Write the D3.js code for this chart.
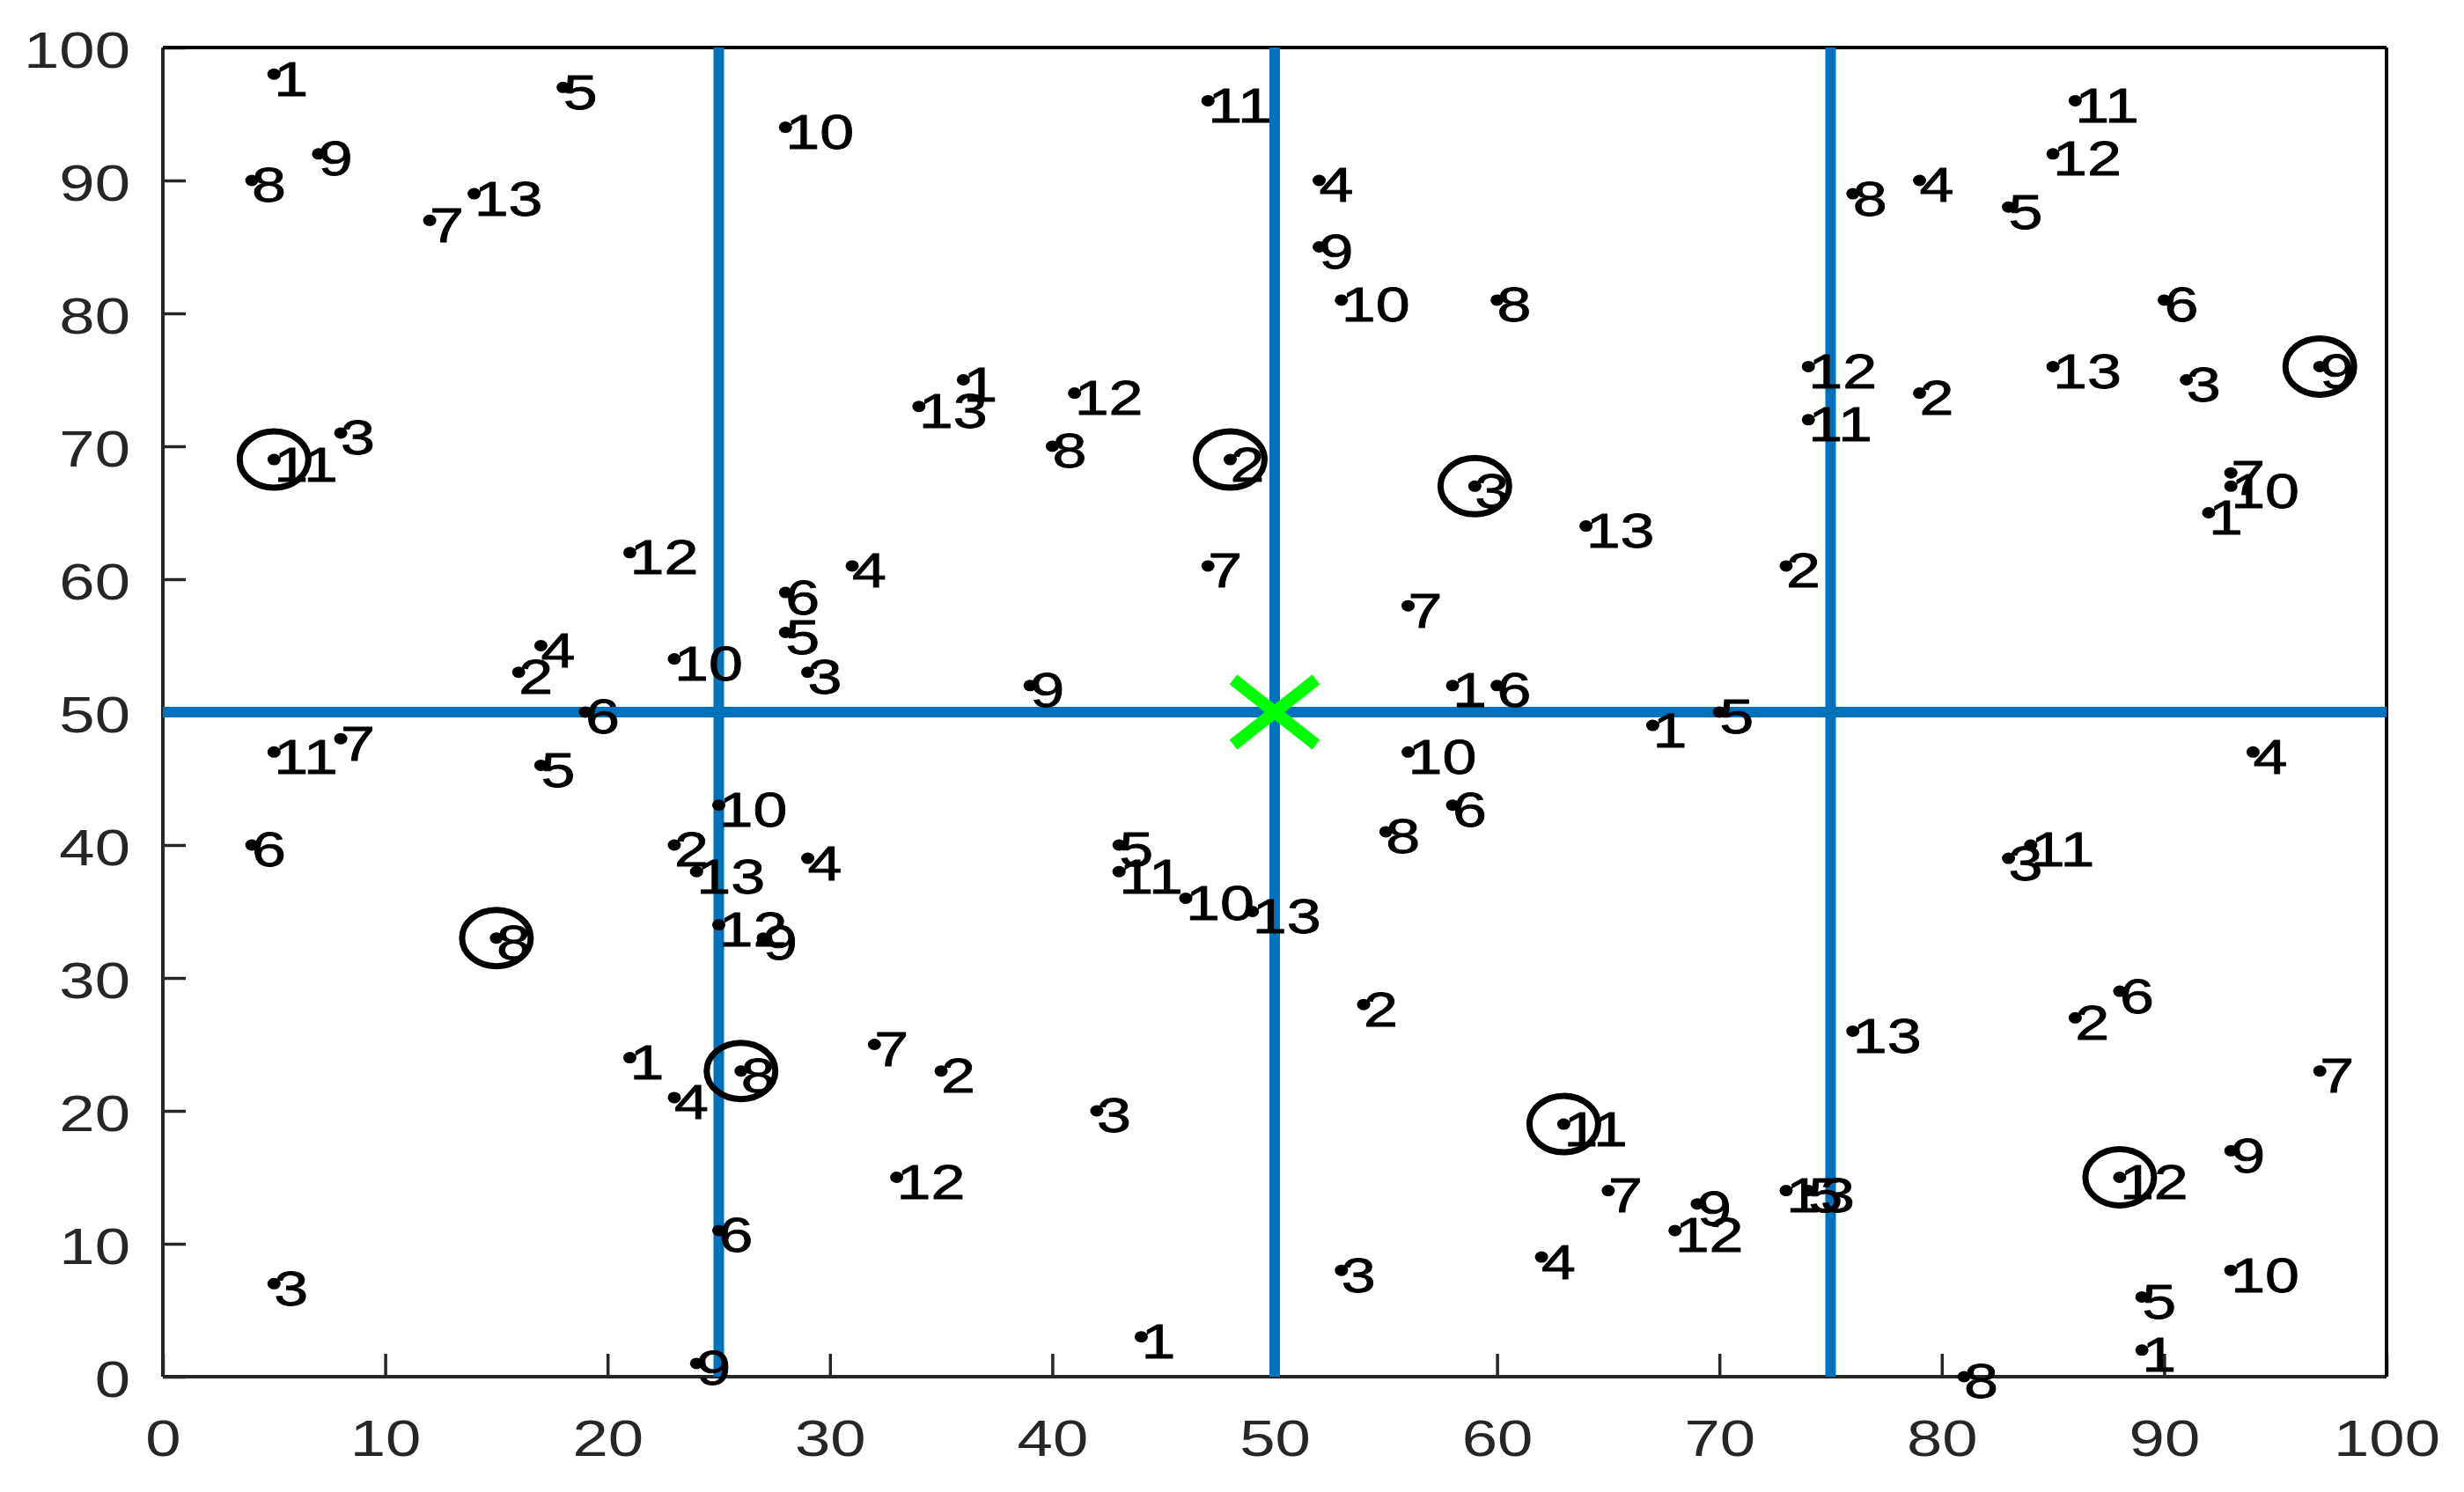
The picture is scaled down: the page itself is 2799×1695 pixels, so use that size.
<!DOCTYPE html>
<html>
<head>
<meta charset="utf-8">
<script src="https://cdn.jsdelivr.net/npm/d3@7"></script>
<style>
  body { margin: 0; background: #fff; }
</style>
</head>
<body>
<div id="wrapper"></div>
<script>
// point data, grouped by label (8 points per label)
const pointLabels = [
    1, 1, 1, 1, 1, 1, 1, 1,
    2, 2, 2, 2, 2, 2, 2, 2,
    3, 3, 3, 3, 3, 3, 3, 3,
    4, 4, 4, 4, 4, 4, 4, 4,
    5, 5, 5, 5, 5, 5, 5, 5,
    6, 6, 6, 6, 6, 6, 6, 6,
    7, 7, 7, 7, 7, 7, 7, 7,
    8, 8, 8, 8, 8, 8, 8, 8,
    9, 9, 9, 9, 9, 9, 9, 9,
    10, 10, 10, 10, 10, 10, 10, 10,
    11, 11, 11, 11, 11, 11, 11, 11,
    12, 12, 12, 12, 12, 12, 12, 12,
    13, 13, 13, 13, 13, 13, 13, 13
]
const xValues = [
    5, 36, 92, 58, 67, 21, 44, 89,
    48, 79, 73, 16, 23, 54, 35, 86,
    8, 91, 59, 29, 83, 42, 53, 5,
    52, 79, 31, 17, 94, 29, 23, 62,
    18, 83, 28, 70, 17, 43, 74, 89,
    90, 28, 60, 19, 58, 4, 88, 25,
    12, 93, 47, 56, 8, 32, 97, 65,
    4, 76, 60, 40, 55, 15, 26, 81,
    7, 52, 97, 39, 27, 93, 69, 24,
    28, 53, 93, 23, 56, 25, 46, 93,
    47, 86, 74, 5, 5, 84, 43, 63,
    85, 41, 74, 21, 25, 33, 68, 88,
    14, 34, 85, 64, 24, 49, 76, 73
]
const yValues = [
    98, 75, 65, 52, 49, 24, 3, 2,
    69, 74, 61, 53, 40, 28, 23, 27,
    71, 75, 67, 53, 39, 20, 8, 7,
    90, 90, 61, 55, 47, 39, 21, 9,
    97, 88, 56, 50, 46, 40, 14, 6,
    81, 59, 52, 50, 43, 40, 29, 11,
    87, 68, 61, 58, 48, 25, 23, 14,
    90, 89, 81, 70, 41, 33, 23, 0,
    92, 85, 76, 52, 33, 17, 13, 1,
    94, 81, 67, 54, 47, 43, 36, 8,
    96, 96, 72, 69, 47, 40, 38, 19,
    92, 74, 76, 62, 34, 15, 11, 15,
    89, 73, 76, 64, 38, 35, 26, 14
]

// circled points
const circleX = [5, 48, 59, 97, 15, 26, 63, 88]
const circleY = [69, 69, 67, 76, 33, 23, 19, 15]

// dividing lines and centre mark
const splitX = [25, 50, 75]
const splitY = [50]
const centreX = [50]
const centreY = [50]

const xTicks = [0, 10, 20, 30, 40, 50, 60, 70, 80, 90, 100]
const yTicks = [0, 10, 20, 30, 40, 50, 60, 70, 80, 90, 100]

function drawChart() {

    const stretch = 1.25   // figure is a bit wider than tall in the picture

    let dimensions = {
        width: 2799,
        height: 1695,
        margin: {
            top: 54,
            right: 88,
            bottom: 131,
            left: 185,
        },
    }
    dimensions.boundedWidth = dimensions.width
        - dimensions.margin.left
        - dimensions.margin.right
    dimensions.boundedHeight = dimensions.height
        - dimensions.margin.top
        - dimensions.margin.bottom

    const wrapper = d3.select("#wrapper")
        .append("svg")
        .attr("width", dimensions.width)
        .attr("height", dimensions.height)
        .style("background", "#fff")

    const bounds = wrapper.append("g")
        .attr("transform", `translate(${dimensions.margin.left}, ${dimensions.margin.top})`)

    const xScale = d3.scaleLinear()
        .domain([0, 100])
        .range([0, dimensions.boundedWidth])
    const yScale = d3.scaleLinear()
        .domain([0, 100])
        .range([dimensions.boundedHeight, 0])

    // axes (ticks inside, like matlab)
    const axisColor = "#262626"
    const xAxis = bounds.append("g")
        .attr("transform", `translate(0, ${dimensions.boundedHeight})`)
        .call(d3.axisBottom(xScale).tickValues(xTicks).tickSize(-26).tickPadding(0).tickFormat(d3.format("d")))
    const yAxis = bounds.append("g")
        .call(d3.axisLeft(yScale).tickValues(yTicks).tickSize(-26).tickPadding(0).tickFormat(d3.format("d")))

    ;[xAxis, yAxis].forEach(ax => {
        ax.select(".domain").remove()
        ax.selectAll(".tick line")
            .attr("stroke", axisColor)
            .attr("stroke-width", 3.5)
        ax.selectAll(".tick text")
            .attr("fill", axisColor)
            .attr("font-family", "'Liberation Sans', Arial, sans-serif")
            .attr("font-size", 58)
    })
    xAxis.selectAll(".tick text")
        .attr("y", null)
        .attr("dy", null)
        .attr("text-anchor", "middle")
        .attr("dominant-baseline", "central")
        .attr("transform", `translate(0, 70) scale(${stretch}, 1)`)
    yAxis.selectAll(".tick text")
        .attr("x", null)
        .attr("dy", null)
        .attr("text-anchor", "end")
        .attr("dominant-baseline", "central")
        .attr("transform", `translate(-37, 3) scale(${stretch}, 1)`)

    // box
    bounds.append("line")
        .attr("x1", 0).attr("x2", dimensions.boundedWidth)
        .attr("y1", dimensions.boundedHeight).attr("y2", dimensions.boundedHeight)
        .attr("stroke", axisColor).attr("stroke-width", 4)
    bounds.append("line")
        .attr("x1", 0).attr("x2", 0)
        .attr("y1", 0).attr("y2", dimensions.boundedHeight)
        .attr("stroke", axisColor).attr("stroke-width", 4)
    bounds.append("line")
        .attr("x1", 0).attr("x2", dimensions.boundedWidth)
        .attr("y1", 0).attr("y2", 0)
        .attr("stroke", "#000").attr("stroke-width", 4)
    bounds.append("line")
        .attr("x1", dimensions.boundedWidth).attr("x2", dimensions.boundedWidth)
        .attr("y1", 0).attr("y2", dimensions.boundedHeight)
        .attr("stroke", "#000").attr("stroke-width", 4)

    // blue split lines
    const blue = "#0072BD"
    bounds.append("g")
        .selectAll("line")
        .data(splitY)
        .join("line")
            .attr("x1", xScale(0)).attr("x2", xScale(100))
            .attr("y1", d => yScale(d)).attr("y2", d => yScale(d))
            .attr("stroke", blue).attr("stroke-width", 12)
    bounds.append("g")
        .selectAll("line")
        .data(splitX)
        .join("line")
            .attr("x1", d => xScale(d)).attr("x2", d => xScale(d))
            .attr("y1", yScale(0)).attr("y2", yScale(100))
            .attr("stroke", blue).attr("stroke-width", 12)

    // points
    const points = d3.range(xValues.length)

    bounds.append("g")
        .selectAll("text")
        .data(points)
        .join("text")
            .attr("transform", i => `translate(${xScale(xValues[i])}, ${yScale(yValues[i]) + 5}) scale(${stretch}, 1)`)
            .attr("dominant-baseline", "central")
            .attr("font-family", "'Liberation Sans', Arial, sans-serif")
            .attr("font-size", 56)
            .attr("fill", "#000")
            .attr("stroke", "#000")
            .attr("stroke-width", 0.8)
            .text(i => pointLabels[i])

    bounds.append("g")
        .selectAll("ellipse")
        .data(points)
        .join("ellipse")
            .attr("cx", i => xScale(xValues[i]))
            .attr("cy", i => yScale(yValues[i]))
            .attr("rx", 7.5)
            .attr("ry", 6.5)
            .attr("fill", "#000")

    // circled points
    bounds.append("g")
        .selectAll("ellipse")
        .data(d3.range(circleX.length))
        .join("ellipse")
            .attr("cx", i => xScale(circleX[i]))
            .attr("cy", i => yScale(circleY[i]))
            .attr("rx", 39)
            .attr("ry", 32)
            .attr("fill", "none")
            .attr("stroke", "#000")
            .attr("stroke-width", 7)

    // centre mark
    const armX = 47
    const armY = 37
    bounds.append("g")
        .selectAll("path")
        .data(d3.range(centreX.length))
        .join("path")
            .attr("d", i => {
                const cx = xScale(centreX[i])
                const cy = yScale(centreY[i])
                return `M${cx - armX},${cy - armY}L${cx + armX},${cy + armY}`
                    + `M${cx - armX},${cy + armY}L${cx + armX},${cy - armY}`
            })
            .attr("stroke", "#00FF00")
            .attr("stroke-width", 14)
            .attr("fill", "none")
}
drawChart()
</script>
</body>
</html>
